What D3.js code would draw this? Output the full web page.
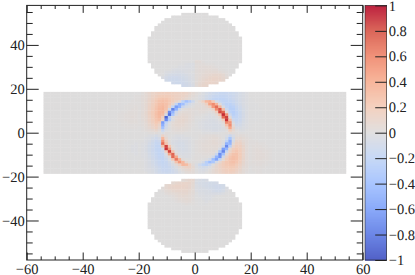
<!DOCTYPE html>
<html><head><meta charset="utf-8">
<script src="https://cdnjs.cloudflare.com/ajax/libs/d3/7.8.5/d3.min.js"></script>
<style>html,body{margin:0;padding:0;background:#fff}svg{display:block}text{font-family:"Liberation Serif",serif;font-size:14.5px;fill:#222;text-rendering:geometricPrecision}</style>
</head><body><svg id="c" width="415" height="275"></svg>
<script>
const binSize = 1.2;
const xLimits = [-60, 60];
const yLimits = [-58, 58];
const xMajor = [-60,-40,-20,0,20,40,60];
const xMinor = [-55,-50,-45,-35,-30,-25,-15,-10,-5,5,10,15,25,30,35,45,50,55];
const yMajor = [-40,-20,0,20,40];
const yMinor = [-55,-50,-45,-35,-30,-25,-15,-10,-5,5,10,15,25,30,35,45,50,55];
const colorTicks = [-1,-0.8,-0.6,-0.4,-0.2,0,0.2,0.4,0.6,0.8,1];
const colorDomain = [-1,-0.8,-0.6,-0.4,-0.2,0,0.2,0.4,0.6,0.8,1];
const colorRange = ["#3b4cc0","#5977e3","#7b9ff9","#9ebeff","#c0d4f5","#dddcdc","#f2cbb7","#f7ac8e","#ee8468","#d65244","#b40426"];

// central band: rows k=-15..15, columns j=-45..44
const bandRows = [-15,15];
const bandCols = [-45,44];
// half widths (in bins) of the two round blobs, from the outer row to the row next to the band
const blobHalfWidths = [4,7,9,10,11,12,12,13,13,14,14,14,14,14,14,14,14,14,14,13,13,12,12,11,10,9,7,4];

// values in hundredths, first row k=15, last k=-15; columns j=-17..16
const centerFirstCol = -17;
const centerValues = [
[0,2,5,8,11,13,15,16,16,16,15,14,13,13,11,8,5,2,0,-3,-6,-9,-11,-13,-15,-15,-14,-13,-11,-9,-6,-4,-2,0],
[1,3,5,8,12,15,18,19,19,18,16,14,13,12,9,6,3,1,-2,-4,-8,-11,-14,-16,-17,-17,-16,-14,-12,-9,-6,-4,-2,0],
[1,3,5,9,13,18,22,24,23,20,17,14,13,10,6,3,1,0,-2,-5,-9,-13,-17,-19,-20,-19,-17,-15,-12,-9,-6,-4,-2,-1],
[1,3,6,10,15,21,26,28,26,22,17,10,2,-22,-36,-26,-12,0,5,14,32,38,20,-6,-15,-19,-20,-18,-15,-11,-7,-4,-2,-1],
[1,3,6,11,16,22,28,30,27,21,9,-18,-48,-38,-16,-7,-3,1,2,5,14,44,56,34,2,-17,-22,-22,-17,-12,-8,-4,-2,-1],
[1,3,6,12,17,24,30,32,27,14,-18,-60,-46,-14,-5,-2,0,2,2,3,6,14,50,68,34,-4,-19,-24,-22,-15,-10,-5,-3,-1],
[1,3,6,12,18,25,31,33,26,-9,-74,-48,-10,0,2,3,2,2,3,3,3,4,12,56,78,28,-12,-24,-24,-17,-11,-6,-3,-1],
[1,3,7,13,19,26,32,33,16,-70,-46,-10,2,4,4,3,2,1,2,2,1,0,2,16,82,72,5,-21,-25,-19,-13,-6,-3,-1],
[1,4,7,13,19,27,32,29,-6,-82,-32,-4,4,6,5,4,2,1,1,0,-1,-2,-1,4,26,90,52,-10,-24,-19,-13,-7,-3,-1],
[1,4,6,12,18,26,31,17,-88,-24,-2,5,6,7,6,4,2,0,0,-1,-2,-3,-3,-1,6,70,84,5,-19,-18,-13,-7,-3,-1],
[1,3,6,11,17,24,28,10,-70,-26,-2,5,7,8,6,4,2,-1,-1,-2,-3,-4,-4,-3,0,17,88,28,-12,-16,-12,-6,-3,-1],
[1,2,5,10,15,22,18,-60,-20,-2,4,6,7,7,5,3,1,-1,-2,-3,-4,-4,-5,-4,-2,4,58,52,-5,-13,-10,-5,-3,-1],
[1,2,4,8,12,18,11,-50,-12,0,4,6,6,6,4,2,1,-1,-2,-3,-4,-5,-5,-5,-4,0,26,56,3,-9,-8,-4,-2,-1],
[0,1,3,6,10,14,7,-36,-7,0,3,4,5,4,3,2,0,-1,-2,-3,-4,-4,-5,-5,-4,-2,7,42,9,-4,-5,-3,-2,-1],
[0,1,2,3,5,8,3,-14,-3,0,2,3,3,3,2,1,0,-1,-1,-2,-3,-3,-4,-4,-3,-2,0,16,6,0,-2,-2,-1,0],
[0,0,0,1,1,2,0,-3,2,1,1,1,1,1,0,0,0,0,0,-1,-1,-1,-1,-1,-1,0,1,4,2,1,0,0,0,0],
[0,0,-1,-2,-3,-6,-3,12,3,0,-1,-2,-2,-2,-1,-1,0,0,1,1,2,2,3,2,1,0,-3,-14,-4,2,3,2,1,0],
[0,-1,-2,-3,-6,-10,-7,32,7,0,-2,-3,-4,-3,-3,-2,-1,0,1,2,2,3,4,4,2,0,-8,-34,-8,5,6,4,2,1],
[-1,-1,-3,-5,-9,-14,-12,52,16,1,-3,-4,-5,-5,-4,-2,-1,1,2,2,3,4,5,4,3,-1,-20,-50,-5,9,10,5,3,1],
[-1,-2,-3,-7,-11,-16,-15,68,25,2,-4,-5,-6,-6,-4,-3,-1,1,2,3,3,4,5,5,3,-3,-48,-46,5,13,13,7,3,1],
[-1,-2,-4,-8,-12,-17,-18,28,84,22,0,-4,-6,-6,-5,-3,-1,1,2,3,4,4,4,4,2,-11,-70,-25,10,16,15,9,4,1],
[-1,-2,-4,-8,-12,-17,-18,-6,88,48,2,-3,-5,-6,-5,-3,-1,1,2,3,3,4,3,3,-4,-60,-46,5,16,20,17,10,4,1],
[-1,-2,-4,-8,-12,-16,-18,-14,17,84,25,-1,-4,-5,-4,-3,-1,1,2,2,3,3,3,0,-34,-72,-14,11,20,23,18,10,4,1],
[-1,-2,-3,-7,-11,-15,-18,-17,-2,44,72,7,-3,-4,-3,-2,-1,1,1,2,2,2,2,-14,-68,-37,4,18,25,26,19,10,4,1],
[-1,-2,-3,-6,-10,-14,-17,-18,-8,5,70,42,1,-2,-3,-2,0,1,1,1,1,0,-9,-46,-64,-9,12,23,28,26,19,10,4,1],
[-1,-1,-3,-5,-9,-13,-16,-18,-13,-3,23,64,35,2,0,-1,0,1,1,0,-2,-9,-40,-56,-20,4,17,25,28,26,18,9,4,1],
[0,-1,-2,-5,-8,-12,-15,-17,-15,-8,0,25,48,32,7,1,1,0,-1,-7,-25,-40,-32,-7,7,17,22,25,27,23,16,8,3,1],
[0,-1,-2,-4,-7,-11,-14,-16,-15,-11,-4,3,14,32,30,14,3,-3,-11,-20,-23,-14,0,7,13,18,21,23,23,19,13,7,3,1],
[0,-1,-2,-4,-6,-9,-12,-15,-15,-13,-8,-2,3,8,12,12,6,-2,-6,-8,-6,-2,3,8,12,16,19,20,20,16,11,5,3,0],
[0,-1,-2,-3,-5,-8,-11,-14,-14,-13,-10,-6,-1,3,6,7,4,-1,-3,-4,-2,1,5,8,11,14,16,18,17,13,9,4,2,0],
[0,0,-1,-3,-4,-7,-10,-12,-13,-12,-10,-7,-3,0,3,4,3,0,-2,-2,0,2,5,7,10,13,15,15,14,11,7,4,1,0]
];

// faint halo either side of the central matrix, hundredths; first six: j=-23..-18, last six: j=17..22
const sideLeftFirstCol = -23;
const sideRightFirstCol = 17;
const sideValues = [
[0,0,0,0,0,0,0,0,0,0,0,0],
[0,0,0,0,0,1,0,0,0,0,0,0],
[0,0,0,0,0,1,0,0,0,0,0,0],
[0,0,0,0,1,1,-1,0,0,0,0,0],
[0,0,0,1,1,1,-1,-1,0,0,0,0],
[0,0,1,1,1,2,-1,-1,0,0,0,0],
[0,0,1,1,2,2,-1,-1,-1,0,0,0],
[0,1,1,2,2,2,-1,-1,-1,0,0,0],
[1,1,2,2,2,2,-1,-1,-1,0,0,0],
[1,1,2,2,3,2,-1,-1,-1,0,0,0],
[1,1,2,2,2,2,-1,-1,0,0,0,0],
[0,1,1,2,2,2,-1,0,0,0,0,0],
[0,1,1,1,1,1,0,0,0,0,0,0],
[0,0,1,1,1,1,0,0,0,0,0,0],
[0,0,0,0,0,0,0,0,0,0,0,0],
[0,0,0,0,0,0,0,0,0,0,0,0],
[0,0,0,0,0,0,0,0,0,0,0,0],
[0,0,0,0,0,0,0,0,0,0,0,0],
[0,0,0,-1,-1,-1,1,1,0,0,0,0],
[0,0,-1,-1,-1,-2,1,2,1,1,0,0],
[0,0,-1,-1,-2,-2,2,2,2,1,1,0],
[0,0,-1,-1,-2,-2,2,3,2,2,1,1],
[0,0,-1,-1,-2,-2,2,3,3,2,2,1],
[0,0,-1,-1,-1,-2,2,3,3,3,2,1],
[0,0,0,-1,-1,-1,2,3,3,3,2,1],
[0,0,0,-1,-1,-1,2,3,3,2,2,1],
[0,0,0,0,-1,-1,2,2,2,2,1,1],
[0,0,0,0,-1,-1,1,2,2,1,1,0],
[0,0,0,0,0,-1,1,1,1,1,0,0],
[0,0,0,0,0,0,1,1,1,0,0,0],
[0,0,0,0,0,0,0,1,1,0,0,0]
];

// blob tints in hundredths, columns j=-12..11
const blobFirstCol = -12;
const topBlobValues = [ // k=18 upward
[0,0,0,0,0,0,0,0,-10,-9,-7,-4,3,7,9,9,0,0,0,0,0,0,0,0],
[0,0,0,0,0,-10,-11,-11,-10,-8,-6,-3,3,6,8,10,11,10,9,0,0,0,0,0],
[0,0,0,-8,-10,-11,-11,-10,-9,-7,-5,-3,2,5,7,9,10,11,10,10,8,0,0,0],
[0,0,-3,-7,-9,-10,-10,-9,-8,-6,-4,-2,2,4,6,7,9,10,10,9,7,4,0,0],
[0,0,-1,-4,-6,-7,-7,-7,-6,-5,-3,-2,2,3,5,6,7,8,8,8,6,2,0,0],
[0,0,0,-2,-3,-4,-5,-5,-4,-3,-2,-1,2,3,4,5,5,5,5,4,2,1,0,0],
[0,0,0,0,-1,-2,-3,-3,-3,-3,-2,-2,2,3,3,4,4,3,3,1,1,0,0,0],
[0,0,0,0,0,-1,-1,-2,-2,-3,-3,-2,2,3,3,3,3,2,1,1,0,0,0,0],
[0,0,0,0,0,0,0,-1,-1,-2,-3,-3,2,2,2,1,1,1,0,0,0,0,0,0],
[0,0,0,0,0,0,0,0,-1,-1,-1,-1,4,3,1,0,0,0,0,0,0,0,0,0]
];
const bottomBlobValues = [ // k=-18 downward
[0,0,0,0,0,0,0,0,4,6,8,7,-3,-5,-6,-5,0,0,0,0,0,0,0,0],
[0,0,0,0,0,6,8,9,10,10,9,6,-4,-6,-6,-7,-8,-8,-7,0,0,0,0,0],
[0,0,0,6,8,10,11,11,11,10,8,5,-3,-5,-6,-7,-8,-9,-10,-9,-8,0,0,0],
[0,0,2,6,8,9,10,10,10,9,8,4,-3,-4,-5,-6,-7,-8,-10,-10,-8,-3,0,0],
[0,0,1,4,5,7,8,8,8,8,6,4,-2,-4,-4,-4,-5,-7,-8,-8,-6,-2,0,0],
[0,0,0,2,3,4,5,6,7,7,5,3,-1,-3,-3,-4,-4,-4,-4,-4,-2,-1,0,0],
[0,0,0,0,1,2,4,5,6,5,4,2,-1,-2,-2,-3,-3,-2,-1,-1,0,0,0,0],
[0,0,0,0,0,1,2,4,4,5,4,2,-1,-1,-2,-3,-3,-1,-1,0,0,0,0,0],
[0,0,0,0,0,0,1,2,3,4,3,1,0,-1,-1,-2,-1,-1,0,0,0,0,0,0],
[0,0,0,0,0,0,0,0,1,2,1,1,0,-1,-1,-1,0,0,0,0,0,0,0,0]
];

const frame = {l:26.7, r:362.7, t:5.4, b:260};
const bar = {l:365, r:386.7};
const inkColor = "#222";
const seamOverlap = 0.35;
const labelFont = '"Liberation Serif",serif';
const labelSize = "14.5px";

const x = d3.scaleLinear().domain(xLimits).range([frame.l, frame.r]);
const y = d3.scaleLinear().domain(yLimits).range([frame.b, frame.t]);
const color = d3.scaleLinear().domain(colorDomain).range(colorRange).clamp(true);
const cbY = d3.scaleLinear().domain([-1,1]).range([frame.b, frame.t]);

const cells = [];
function valueAt(j,k){
  if (k>=-15 && k<=15) {
    const v = centerValues[15-k][j-centerFirstCol];
    if (v!==undefined) return v/100;
    const side = sideValues[15-k];
    if (j>=sideLeftFirstCol && j<sideLeftFirstCol+6) return side[j-sideLeftFirstCol]/100;
    if (j>=sideRightFirstCol && j<sideRightFirstCol+6) return side[6+j-sideRightFirstCol]/100;
    return 0;
  }
  const tbl = k>0 ? topBlobValues : bottomBlobValues;
  const row = tbl[Math.abs(k)-18]; if(!row) return 0;
  const v = row[j-blobFirstCol]; return v===undefined?0:v/100;
}
for (let k=bandRows[0]; k<=bandRows[1]; k++) for (let j=bandCols[0]; j<=bandCols[1]; j++) cells.push({j,k,v:valueAt(j,k)});
blobHalfWidths.forEach((hw,i)=>{
  const kTop = 45-i, kBot = -45+i;
  for (let j=-hw; j<hw; j++){
    cells.push({j,k:kTop,v:valueAt(j,kTop)});
    cells.push({j,k:kBot,v:valueAt(j,kBot)});
  }
});

const svg = d3.select("#c");
svg.append("g").selectAll("rect").data(cells).join("rect")
  .attr("x",d=>x(d.j*binSize)).attr("width",d=>x((d.j+1)*binSize)-x(d.j*binSize)+seamOverlap)
  .attr("y",d=>y((d.k+0.5)*binSize)).attr("height",d=>y((d.k-0.5)*binSize)-y((d.k+0.5)*binSize)+seamOverlap)
  .attr("fill",d=>color(d.v));

// colour bar
const steps = d3.range(frame.t, frame.b, 1);
svg.append("g").selectAll("rect").data(steps).join("rect")
  .attr("x",bar.l).attr("width",bar.r-bar.l).attr("y",d=>d).attr("height",1.3)
  .attr("fill",d=>color(cbY.invert(d+0.5)));

function styleAxis(g){ g.select(".domain").remove(); g.selectAll("line").attr("stroke",inkColor).attr("stroke-width",1); }
function labels(g){ g.attr("font-family",labelFont).attr("font-size",14.5); g.selectAll("text").attr("fill",inkColor).style("font-family",labelFont).style("font-size",labelSize); }

const fmt = d=>d3.format("")(d).replace("-","\u2212");
// bottom / top
svg.append("g").attr("transform",`translate(0,${frame.b})`).call(d3.axisBottom(x).tickValues(xMajor).tickSize(-7.5).tickPadding(0).tickFormat(fmt))
  .call(styleAxis).call(labels).selectAll("text").attr("y",14).attr("dy",0);
svg.append("g").attr("transform",`translate(0,${frame.b})`).call(d3.axisBottom(x).tickValues(xMinor).tickSize(-3.6).tickFormat("")).call(styleAxis);
svg.append("g").attr("transform",`translate(0,${frame.t})`).call(d3.axisTop(x).tickValues(xMajor).tickSize(-7.5).tickFormat("")).call(styleAxis);
svg.append("g").attr("transform",`translate(0,${frame.t})`).call(d3.axisTop(x).tickValues(xMinor).tickSize(-3.6).tickFormat("")).call(styleAxis);
// left / right
svg.append("g").attr("transform",`translate(${frame.l},0)`).call(d3.axisLeft(y).tickValues(yMajor).tickSize(-12).tickPadding(2).tickFormat(fmt)).call(styleAxis).call(labels);
svg.append("g").attr("transform",`translate(${frame.l},0)`).call(d3.axisLeft(y).tickValues(yMinor).tickSize(-6).tickFormat("")).call(styleAxis);
svg.append("g").attr("transform",`translate(${frame.r},0)`).call(d3.axisRight(y).tickValues(yMajor).tickSize(-12).tickFormat("")).call(styleAxis);
svg.append("g").attr("transform",`translate(${frame.r},0)`).call(d3.axisRight(y).tickValues(yMinor).tickSize(-6).tickFormat("")).call(styleAxis);
// frame
svg.append("rect").attr("x",frame.l).attr("y",frame.t).attr("width",frame.r-frame.l).attr("height",frame.b-frame.t).attr("fill","none").attr("stroke",inkColor).attr("stroke-width",1);
// colour bar axis
svg.append("g").attr("transform",`translate(${bar.r},0)`).call(d3.axisRight(cbY).tickValues(colorTicks).tickSize(-11.5).tickPadding(2).tickFormat(fmt)).call(styleAxis).call(labels);
svg.append("rect").attr("x",bar.l).attr("y",frame.t).attr("width",bar.r-bar.l).attr("height",frame.b-frame.t).attr("fill","none").attr("stroke",inkColor).attr("stroke-width",0.6);
</script></body></html>
